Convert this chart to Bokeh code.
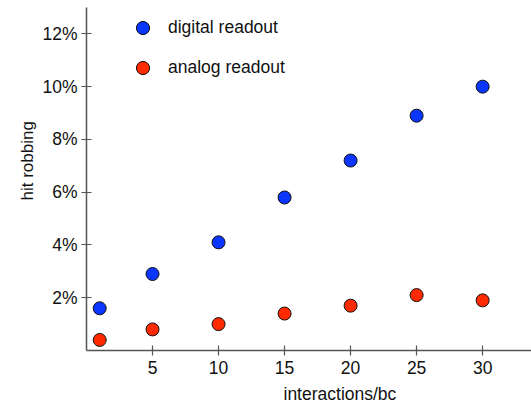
from bokeh.plotting import figure
from bokeh.models import (FixedTicker, PrintfTickFormatter, Legend, LegendItem,
                          Title, Range1d)
from bokeh.embed import file_html
from bokeh.resources import INLINE

interactions = [1, 5, 10, 15, 20, 25, 30]
digital = [1.6, 2.9, 4.1, 5.8, 7.2, 8.9, 10.0]
analog = [0.4, 0.8, 1.0, 1.4, 1.7, 2.1, 1.9]
x_ticks = [5, 10, 15, 20, 25, 30]
y_ticks = [2, 4, 6, 8, 10, 12]
series_names = ["digital readout", "analog readout"]

FONT = "Liberation Sans"
FS = "17.5px"
AX = "#555555"

p = figure(width=531, height=408, output_backend="svg", toolbar_location=None,
           x_range=Range1d(0, 33.7), y_range=Range1d(0, 13.0),
           min_border_left=86, min_border_right=0, min_border_top=7,
           min_border_bottom=58)
p.outline_line_color = None
p.xgrid.visible = False
p.ygrid.visible = False
p.background_fill_color = "white"
p.border_fill_color = "white"

for ax in (p.xaxis[0], p.yaxis[0]):
    ax.axis_line_color = AX
    ax.axis_line_width = 1.5
    ax.major_tick_line_color = AX
    ax.major_tick_line_width = 1.2
    ax.major_tick_in = 5
    ax.major_tick_out = 5
    ax.minor_tick_line_color = None
    ax.major_label_text_font = FONT
    ax.major_label_text_font_size = FS
    ax.major_label_text_color = "#111111"
    ax.major_label_standoff = 5

p.xaxis[0].ticker = FixedTicker(ticks=x_ticks)
p.yaxis[0].ticker = FixedTicker(ticks=y_ticks)
p.yaxis[0].formatter = PrintfTickFormatter(format="%d%%")
p.yaxis[0].major_label_standoff = 4

r_dig = p.scatter(interactions, digital, size=13, fill_color="#0a36ff",
                  line_color="#111111", line_width=1)
r_ana = p.scatter(interactions, analog, size=13, fill_color="#ff2a00",
                  line_color="#111111", line_width=1)

legend = Legend(items=[LegendItem(label=series_names[0], renderers=[r_dig]),
                       LegendItem(label=series_names[1], renderers=[r_ana])],
                location=(40, 266), padding=0, margin=0, spacing=7,
                glyph_width=33, glyph_height=33, label_height=33,
                label_standoff=9, border_line_color=None,
                background_fill_alpha=0,
                label_text_font=FONT, label_text_font_size=FS,
                label_text_color="#111111")
p.add_layout(legend)

xtitle = Title(text="interactions/bc", align="left", offset=197,
               text_font=FONT, text_font_size=FS, text_font_style="normal",
               text_color="#111111", standoff=10)
ytitle = Title(text="hit robbing", align="left", offset=150,
               text_font=FONT, text_font_size="17px", text_font_style="normal",
               text_color="#111111", standoff=6)
p.add_layout(xtitle, "below")
p.add_layout(ytitle, "left")

open("out.html", "w").write(file_html(p, INLINE))
